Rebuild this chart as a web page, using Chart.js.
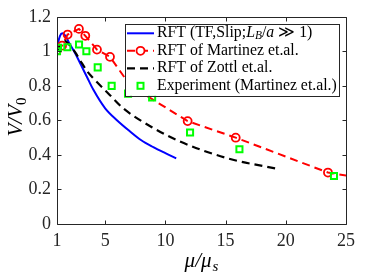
<!DOCTYPE html>
<html>
<head>
<meta charset="utf-8">
<script src="https://cdn.jsdelivr.net/npm/chart.js@4.4.1/dist/chart.umd.min.js"></script>
<style>
html,body{margin:0;padding:0;background:#fff;}
#wrap{width:374px;height:280px;}
</style>
</head>
<body>
<div id="wrap"><canvas id="c" width="374" height="280"></canvas></div>
<script>
// ---- data ----
const xTicks = [1, 5, 10, 15, 20, 25];
const yTicks = [0, 0.2, 0.4, 0.6, 0.8, 1, 1.2];

const rftX = [1, 1.1, 1.25, 1.45, 1.7, 2.0, 2.5, 3.0, 3.5, 4.0, 5.0, 6.0, 7.0, 8.0, 9.0, 10.0, 10.9];
const rftY = [0.99, 1.05, 1.09, 1.105, 1.09, 1.05, 0.99, 0.92, 0.85, 0.78, 0.67, 0.60, 0.54, 0.485, 0.445, 0.41, 0.38];

const martX = [1, 1.42, 1.88, 2.82, 3.35, 4.32, 5.4, 7.1, 11.85, 15.84, 23.5, 25.5];
const martY = [1.006, 1.033, 1.097, 1.13, 1.09, 1.01, 0.968, 0.80, 0.596, 0.50, 0.298, 0.275];

const zottlX = [1, 1.3, 1.65, 2.0, 2.5, 2.9, 3.5, 4.0, 5.4, 6.5, 9.1, 11.2, 15.3, 19.5];
const zottlY = [1.0, 1.04, 1.06, 1.04, 0.995, 0.95, 0.885, 0.845, 0.746, 0.67, 0.552, 0.478, 0.378, 0.317];

const expX = [1, 1.08, 1.86, 2.83, 3.44, 4.38, 5.54, 6.9, 8.9, 12.05, 16.15, 24.0];
const expY = [1.0, 1.02, 1.024, 1.04, 1.0, 0.907, 0.80, 0.755, 0.733, 0.53, 0.433, 0.278];

const seriesNames = ["RFT", "RFT of Martinez et.al.", "RFT of Zottl et.al.", "Experiment (Martinez et.al.)"];

const pts = (xs, ys) => xs.map((x, i) => ({x: x, y: ys[i]}));

const AX = '#262626';
const SERIF = '"Liberation Serif", "DejaVu Serif", serif';
const LF = 15.8;

const boxTicks = {
  id: 'boxTicks',
  afterDraw(chart) {
    const {ctx, chartArea: a, scales} = chart;
    ctx.save();
    ctx.strokeStyle = AX;
    ctx.lineWidth = 1;
    ctx.beginPath();
    const L = Math.round(a.left) + 0.5, R = Math.round(a.right) + 0.5;
    const T = Math.round(a.top) + 0.5, B = Math.round(a.bottom) + 0.5;
    ctx.rect(L, T, R - L, B - T);
    const tl = 4;
    xTicks.forEach(v => {
      const px = Math.round(scales.x.getPixelForValue(v)) + 0.5;
      ctx.moveTo(px, B); ctx.lineTo(px, B - tl);
      ctx.moveTo(px, T); ctx.lineTo(px, T + tl);
    });
    yTicks.forEach(v => {
      const py = Math.round(scales.y.getPixelForValue(v)) + 0.5;
      ctx.moveTo(L, py); ctx.lineTo(L + tl, py);
      ctx.moveTo(R, py); ctx.lineTo(R - tl, py);
    });
    ctx.stroke();

    // axis titles
    ctx.fillStyle = '#000';
    ctx.save();
    ctx.translate(15, 117);
    ctx.rotate(-Math.PI / 2);
    ctx.textBaseline = 'alphabetic';
    const yMain = 'V/V';
    ctx.font = 'italic 21px ' + SERIF;
    const w1 = ctx.measureText(yMain).width;
    ctx.font = '15px ' + SERIF;
    const w2 = ctx.measureText('0').width;
    let sx = -(w1 + w2) / 2;
    ctx.font = 'italic 21px ' + SERIF;
    ctx.fillText(yMain, sx, 7);
    ctx.font = '15px ' + SERIF;
    ctx.fillText('0', sx + w1, 11);
    ctx.restore();

    ctx.save();
    ctx.textBaseline = 'alphabetic';
    ctx.font = 'italic 21px ' + SERIF;
    const xm = 'μ/μ';
    const xw1 = ctx.measureText(xm).width;
    ctx.font = 'italic 15px ' + SERIF;
    const xw2 = ctx.measureText('s').width;
    let xx = 201 - (xw1 + xw2) / 2;
    ctx.font = 'italic 21px ' + SERIF;
    ctx.fillText(xm, xx, 267);
    ctx.font = 'italic 15px ' + SERIF;
    ctx.fillText('s', xx + xw1 + 1, 271);
    ctx.restore();

    // legend
    const lx = a.left + 68, ly = a.top + 7, lw = 214, lh = 72;
    ctx.fillStyle = '#fff';
    ctx.fillRect(lx, ly, lw, lh);
    ctx.strokeStyle = AX;
    ctx.lineWidth = 1;
    ctx.strokeRect(Math.round(lx) + 0.5, Math.round(ly) + 0.5, lw, lh);
    const rows = [ly + 9.5, ly + 27, ly + 44.5, ly + 62];
    const sx0 = lx + 2, sx1 = lx + 29, tx = lx + 32;
    const ds = chart.data.datasets;
    for (let i = 0; i < 4; i++) {
      const d = ds[i], y = rows[i];
      ctx.save();
      if (d.showLine) {
        ctx.strokeStyle = d.borderColor;
        ctx.lineWidth = d.borderWidth;
        ctx.setLineDash(d.borderDash || []);
        ctx.beginPath(); ctx.moveTo(sx0, y); ctx.lineTo(sx1, y); ctx.stroke();
        ctx.setLineDash([]);
      }
      if (i === 1) {
        ctx.strokeStyle = d.pointBorderColor; ctx.lineWidth = d.pointBorderWidth;
        ctx.fillStyle = '#fff';
        ctx.beginPath(); ctx.arc((sx0 + sx1) / 2, y, 4, 0, Math.PI * 2); ctx.fill(); ctx.stroke();
      }
      if (i === 3) {
        ctx.strokeStyle = d.pointBorderColor; ctx.lineWidth = d.pointBorderWidth;
        ctx.fillStyle = '#fff';
        const cx = (sx0 + sx1) / 2;
        ctx.fillRect(cx - 3, y - 3, 6, 6); ctx.strokeRect(cx - 3, y - 3, 6, 6);
      }
      ctx.restore();
      ctx.fillStyle = '#000';
      ctx.textBaseline = 'middle';
      if (i === 0) {
        let x = tx;
        const parts = [
          ['', 'RFT (TF,Slip;', 0, LF],
          ['italic ', 'L', 0, LF],
          ['italic ', 'B', 3, 11.5],
          ['', '/', 0, LF],
          ['italic ', 'a', 0, LF],
          ['', ' ≫ 1)', 0, LF]
        ];
        parts.forEach(p => {
          ctx.font = p[0] + p[3] + 'px ' + SERIF;
          ctx.fillText(p[1], x, y + p[2]);
          x += ctx.measureText(p[1]).width;
        });
      } else {
        ctx.font = LF + 'px ' + SERIF;
        ctx.fillText(seriesNames[i], tx, y);
      }
    }
    ctx.restore();
  }
};

new Chart(document.getElementById('c'), {
  type: 'scatter',
  data: {
    datasets: [
      {
        label: seriesNames[0], data: pts(rftX, rftY), showLine: true, order: 4,
        borderColor: '#0000FF', borderWidth: 2, pointRadius: 0,
        cubicInterpolationMode: 'monotone'
      },
      {
        label: seriesNames[1], data: pts(martX, martY), showLine: true, order: 3,
        borderColor: '#FF0000', borderWidth: 2, borderDash: [8, 5],
        pointStyle: 'circle',
        pointRadius: c => (c.raw && c.raw.x > 25 ? 0 : 4),
        pointBorderColor: '#FF0000', pointBackgroundColor: 'rgba(255,255,255,0)',
        pointBorderWidth: 1.8
      },
      {
        label: seriesNames[2], data: pts(zottlX, zottlY), showLine: true, order: 2,
        borderColor: '#000000', borderWidth: 2.2, borderDash: [8, 5], pointRadius: 0,
        cubicInterpolationMode: 'monotone'
      },
      {
        label: seriesNames[3], data: pts(expX, expY), showLine: false, order: 1,
        pointStyle: 'rect', pointRadius: 4.3,
        pointBorderColor: '#00FF00', pointBackgroundColor: 'rgba(255,255,255,0)',
        pointBorderWidth: 2
      }
    ]
  },
  options: {
    responsive: false,
    animation: false,
    devicePixelRatio: 1,
    layout: {padding: {top: 8, right: 28, left: 0, bottom: 0}},
    plugins: {legend: {display: false}, tooltip: {enabled: false}},
    scales: {
      x: {
        type: 'linear', min: 1, max: 25,
        afterBuildTicks: s => { s.ticks = xTicks.map(v => ({value: v})); },
        afterFit: s => { s.height = 56; },
        grid: {display: false, drawTicks: false},
        border: {display: false},
        ticks: {
          padding: 6, color: AX, maxRotation: 0, autoSkip: false,
          font: {family: SERIF, size: 18},
          callback: v => String(v)
        }
      },
      y: {
        type: 'linear', min: 0, max: 1.2,
        afterBuildTicks: s => { s.ticks = yTicks.map(v => ({value: v})); },
        afterFit: s => { s.width = 57; },
        grid: {display: false, drawTicks: false},
        border: {display: false},
        ticks: {
          padding: 6, color: AX, autoSkip: false,
          font: {family: SERIF, size: 18},
          callback: v => String(parseFloat(Number(v).toFixed(1)))
        }
      }
    }
  },
  plugins: [boxTicks]
});
</script>
</body>
</html>
